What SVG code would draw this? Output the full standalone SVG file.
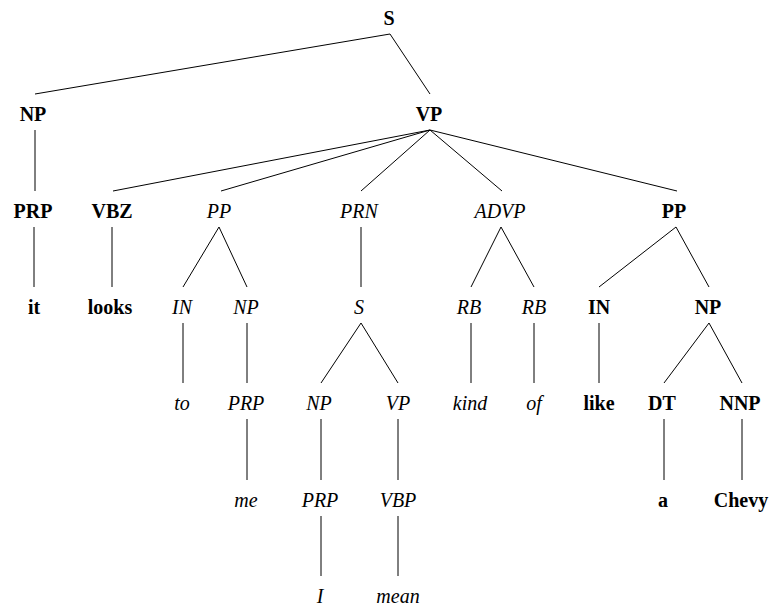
<svg xmlns="http://www.w3.org/2000/svg" width="769" height="608" viewBox="0 0 769 608">
<style>
text{font-family:"Liberation Serif","Times New Roman",serif;font-size:20px;text-anchor:middle;fill:#000}
.b{font-weight:bold}
.i{font-style:italic}
#edges line{stroke:#000;stroke-width:1}
</style>
<rect width="769" height="608" fill="#fff"/>
<g id="edges">
<line x1="390" y1="34" x2="35" y2="94"/>
<line x1="390" y1="34" x2="430" y2="94"/>
<line x1="35" y1="130" x2="35" y2="191"/>
<line x1="430" y1="130" x2="113" y2="191"/>
<line x1="430" y1="130" x2="221" y2="191"/>
<line x1="430" y1="130" x2="361" y2="191"/>
<line x1="430" y1="130" x2="502" y2="191"/>
<line x1="430" y1="130" x2="677" y2="191"/>
<line x1="34" y1="227" x2="34" y2="287"/>
<line x1="112" y1="227" x2="112" y2="287"/>
<line x1="219" y1="227" x2="183" y2="287"/>
<line x1="219" y1="227" x2="247" y2="287"/>
<line x1="361" y1="227" x2="361" y2="287"/>
<line x1="501" y1="227" x2="471" y2="287"/>
<line x1="501" y1="227" x2="534" y2="287"/>
<line x1="676" y1="227" x2="599" y2="287"/>
<line x1="676" y1="227" x2="709" y2="287"/>
<line x1="183" y1="323" x2="183" y2="383"/>
<line x1="247" y1="323" x2="247" y2="383"/>
<line x1="361" y1="323" x2="321" y2="383"/>
<line x1="361" y1="323" x2="398" y2="383"/>
<line x1="471" y1="323" x2="471" y2="383"/>
<line x1="534" y1="323" x2="534" y2="383"/>
<line x1="599" y1="323" x2="599" y2="383"/>
<line x1="709" y1="323" x2="664" y2="383"/>
<line x1="709" y1="323" x2="742" y2="383"/>
<line x1="247" y1="419" x2="247" y2="480"/>
<line x1="321" y1="419" x2="321" y2="480"/>
<line x1="398" y1="419" x2="398" y2="480"/>
<line x1="664" y1="419" x2="664" y2="480"/>
<line x1="742" y1="419" x2="742" y2="480"/>
<line x1="321" y1="516" x2="321" y2="576"/>
<line x1="398" y1="516" x2="398" y2="576"/>
</g>
<g id="n-S"><text class="b" x="389" y="25">S</text></g>
<g id="n-NP"><text class="b" x="33" y="121">NP</text></g>
<g id="n-VP"><text class="b" x="429" y="121">VP</text></g>
<g id="n-PRP"><text class="b" x="33" y="218">PRP</text></g>
<g id="n-it"><text class="b" x="34" y="314">it</text></g>
<g id="n-VBZ"><text class="b" x="112" y="218">VBZ</text></g>
<g id="n-looks"><text class="b" x="110" y="314">looks</text></g>
<g id="n-PP1"><text class="i" x="219" y="218">PP</text></g>
<g id="n-IN1"><text class="i" x="182" y="314">IN</text></g>
<g id="n-to"><text class="i" x="182" y="410">to</text></g>
<g id="n-NP1"><text class="i" x="246" y="314">NP</text></g>
<g id="n-PRP1"><text class="i" x="246" y="410">PRP</text></g>
<g id="n-me"><text class="i" x="246" y="507">me</text></g>
<g id="n-PRN"><text class="i" x="359" y="218">PRN</text></g>
<g id="n-S2"><text class="i" x="359" y="314">S</text></g>
<g id="n-NP2"><text class="i" x="319" y="410">NP</text></g>
<g id="n-PRP2"><text class="i" x="320" y="507">PRP</text></g>
<g id="n-I"><text class="i" x="320" y="603">I</text></g>
<g id="n-VP2"><text class="i" x="398" y="410">VP</text></g>
<g id="n-VBP"><text class="i" x="398" y="507">VBP</text></g>
<g id="n-mean"><text class="i" x="398" y="603">mean</text></g>
<g id="n-ADVP"><text class="i" x="500" y="218">ADVP</text></g>
<g id="n-RB1"><text class="i" x="469" y="314">RB</text></g>
<g id="n-kind"><text class="i" x="470" y="410">kind</text></g>
<g id="n-RB2"><text class="i" x="534" y="314">RB</text></g>
<g id="n-of"><text class="i" x="534" y="410">of</text></g>
<g id="n-PP2"><text class="b" x="674" y="218">PP</text></g>
<g id="n-IN2"><text class="b" x="599" y="314">IN</text></g>
<g id="n-like"><text class="b" x="599" y="410">like</text></g>
<g id="n-NP3"><text class="b" x="708" y="314">NP</text></g>
<g id="n-DT"><text class="b" x="662" y="410">DT</text></g>
<g id="n-a"><text class="b" x="663" y="507">a</text></g>
<g id="n-NNP"><text class="b" x="740" y="410">NNP</text></g>
<g id="n-Chevy"><text class="b" x="741" y="507">Chevy</text></g>
</svg>
